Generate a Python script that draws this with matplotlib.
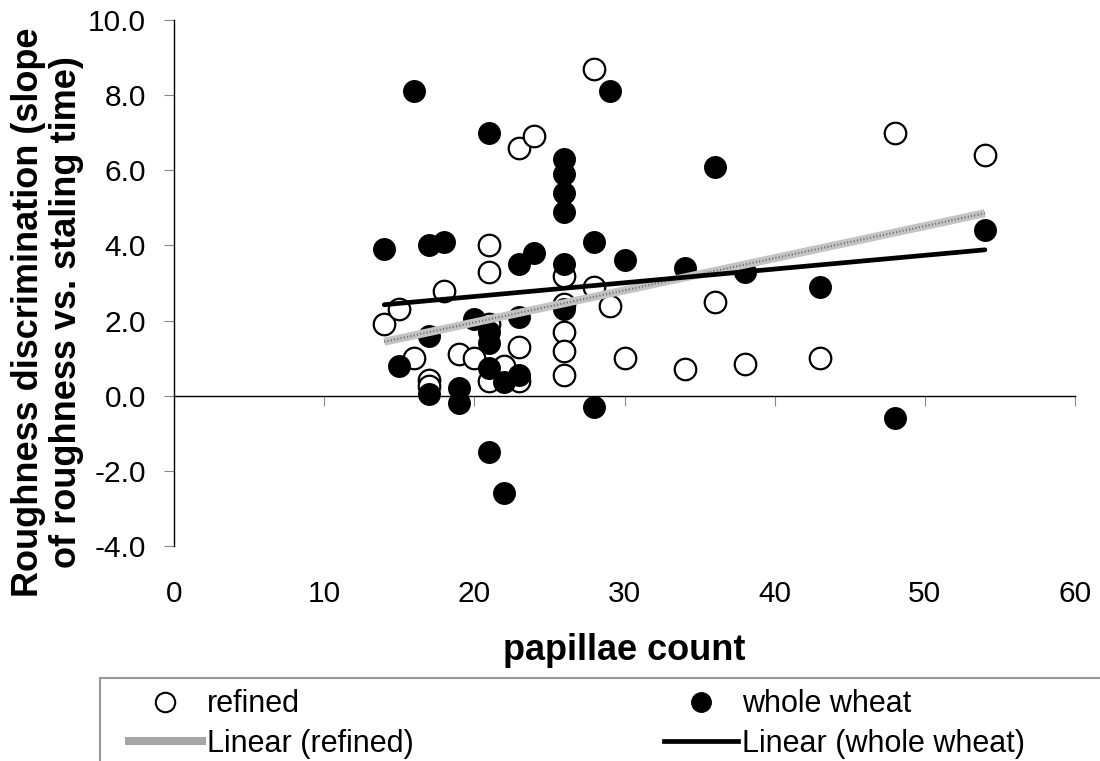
import numpy as np
import matplotlib
matplotlib.use("Agg")
import matplotlib.pyplot as plt
from matplotlib import transforms
from matplotlib.patches import Rectangle

plt.rcParams["font.family"] = ["Liberation Sans", "DejaVu Sans"]

# refined (open circles)
refined_x = [14, 15, 16, 17, 17, 18, 19, 20, 21, 21, 21, 21, 22, 23, 24, 23, 23,
             26, 26, 26, 26, 26, 28, 28, 29, 30, 34, 36, 38, 43, 48, 54]
refined_y = [1.9, 2.3, 1.0, 0.43, 0.25, 2.8, 1.1, 1.0, 4.0, 3.3, 1.9, 0.4, 0.8, 6.6, 6.9, 1.3, 0.4,
             3.2, 2.45, 1.7, 1.2, 0.55, 8.7, 2.9, 2.4, 1.0, 0.7, 2.5, 0.85, 1.0, 7.0, 6.4]

# whole wheat (filled circles)
whole_x = [14, 15, 16, 17, 18, 17, 17, 19, 19, 20, 21, 21, 21, 21, 21, 22, 22, 23, 24, 23, 23,
           26, 26, 26, 26, 26, 26, 28, 28, 29, 30, 34, 36, 38, 43, 48, 54]
whole_y = [3.9, 0.8, 8.1, 4.0, 4.1, 1.6, 0.05, 0.2, -0.2, 2.05, 7.0, 1.7, 1.4, 0.75, -1.5, 0.37, -2.6, 3.5, 3.8, 2.1, 0.55,
           6.3, 5.9, 5.4, 4.9, 3.5, 2.3, 4.1, -0.3, 8.1, 3.6, 3.4, 6.1, 3.3, 2.9, -0.6, 4.4]

x_ticks = [0, 10, 20, 30, 40, 50, 60]
y_ticks = [-4, -2, 0, 2, 4, 6, 8, 10]

fig = plt.figure(figsize=(11, 7.61), dpi=100)
ax = fig.add_axes([0.1582, 0.2825, 0.8191, 0.6912])

ax.plot(refined_x, refined_y, "o", ms=15.5, mfc="white", mec="black", mew=1.6,
        label="refined", zorder=3)
ax.plot(whole_x, whole_y, "o", ms=15.5, mfc="black", mec="black", mew=1.0,
        label="whole wheat", zorder=3)

# trend lines
rx = np.array([min(refined_x), max(refined_x)])
rp = np.polyfit(refined_x, refined_y, 1)
ax.plot(rx, np.polyval(rp, rx), color="#c4c4c4", lw=5.8, solid_capstyle="butt",
        zorder=4)
ax.plot(rx, np.polyval(rp, rx), color="#6e6e6e", lw=1.6, ls=(0, (0.5, 1.0)), zorder=4)

wx = np.array([min(whole_x), max(whole_x)])
wp = np.polyfit(whole_x, whole_y, 1)
ax.plot(wx, np.polyval(wp, wx), color="black", lw=3.4, solid_capstyle="round",
        zorder=5)

ax.set_xlim(0, 60)
ax.set_ylim(-4, 10)

ax.spines["top"].set_visible(False)
ax.spines["right"].set_visible(False)
ax.spines["bottom"].set_position(("data", 0))
ax.spines["bottom"].set_linewidth(1.0)
ax.spines["left"].set_linewidth(1.0)

ax.set_yticks(y_ticks)
ax.set_yticklabels([f"{v:.1f}" for v in y_ticks], fontsize=21.5)
ax.set_xticks(x_ticks)
ax.set_xticklabels([])
ax.tick_params(axis="y", direction="out", length=7, color="#888888", pad=13)
ax.tick_params(axis="x", direction="out", length=7, color="#888888")

trans = transforms.blended_transform_factory(ax.transData, ax.transAxes)
for v in x_ticks:
    ax.text(v, -0.092, str(v), transform=trans, ha="center", va="center", fontsize=21.5)

ax.text(0.5, -0.198, "papillae count", transform=ax.transAxes, ha="center", va="center",
        fontsize=26, fontweight="bold")
fig.text(0.043, 0.59, "Roughness discrimination (slope\nof roughness vs. staling time)",
         rotation=90, ha="center", va="center", fontsize=26, fontweight="bold",
         linespacing=1.1)

# legend
h_ref = plt.Line2D([], [], ls="none", marker="o", ms=14, mfc="white", mec="black", mew=1.5)
h_whole = plt.Line2D([], [], ls="none", marker="o", ms=14, mfc="black", mec="black")
h_rlin = plt.Line2D([], [], color="#a6a6a6", lw=5.8)
h_wlin = plt.Line2D([], [], color="black", lw=3.4)
leg = fig.legend([h_ref, h_rlin, h_whole, h_wlin],
                 ["refined", "Linear (refined)", "whole wheat", "Linear (whole wheat)"],
                 ncol=2, loc="upper left", bbox_to_anchor=(0.117, 0.094),
                 fontsize=22, frameon=False, borderaxespad=0, borderpad=0,
                 handlelength=2.4, handletextpad=0.16, labelspacing=0.3,
                 columnspacing=8.2)
fig.patches.append(Rectangle((100 / 1100, -0.05), 1.2, 0.05 + 83 / 761,
                             transform=fig.transFigure, fill=False,
                             edgecolor="#999999", lw=1.5))

fig.savefig("out.png", dpi=100)
